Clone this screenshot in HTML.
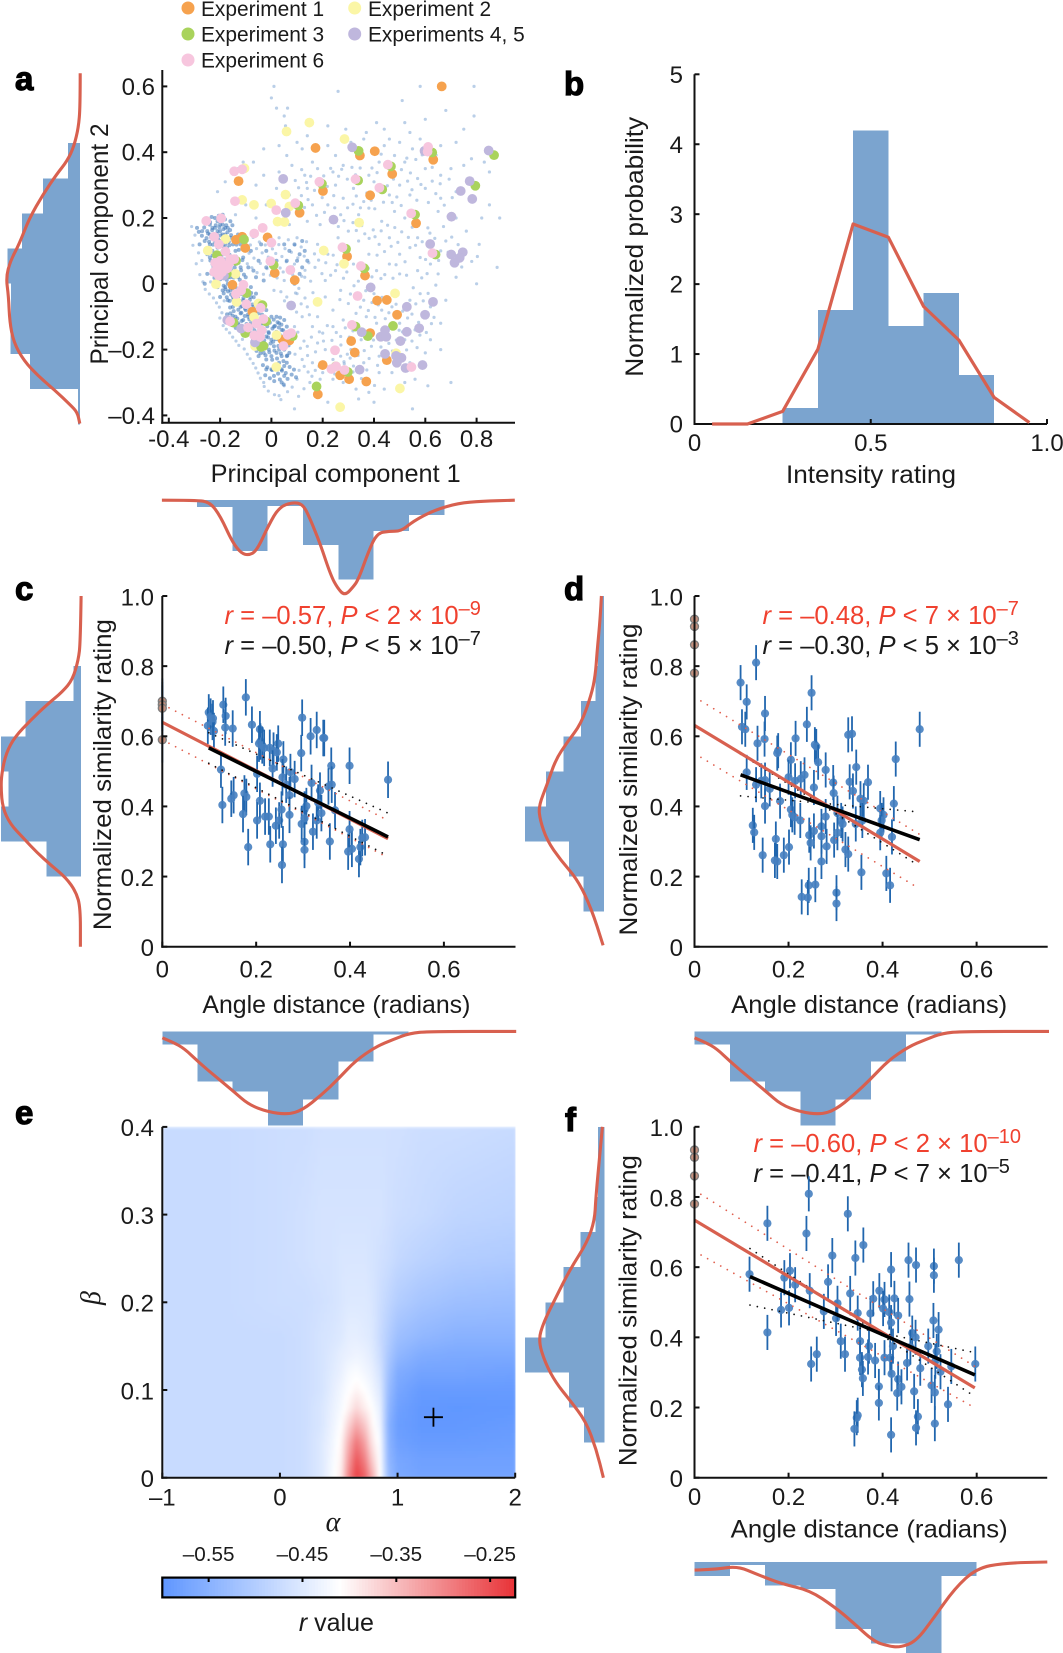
<!DOCTYPE html>
<html lang="en">
<head>
<meta charset="utf-8">
<title>Olfactory perceptual similarity figure</title>
<style>
html,body{margin:0;padding:0;background:#fff;}
svg{display:block;font-family:"Liberation Sans",Arial,sans-serif;fill:#1a1a1a;}
.tick{font-size:24px;}
.label{font-size:25px;}
.letter{font-size:33px;font-weight:bold;fill:#000;stroke:#000;stroke-width:1.2px;}
.legend{font-size:20.9px;}
.note{font-size:25.6px;}
.sup{font-size:20px;}
</style>
</head>
<body>
<svg id="figure" width="1063" height="1653" viewBox="0 0 1063 1653" xmlns="http://www.w3.org/2000/svg">
  <defs>
    <filter id="heat-blur" filterUnits="userSpaceOnUse" x="162.3" y="1126.6" width="352.9" height="350.8">
      <feGaussianBlur stdDeviation="1.6" edgeMode="duplicate"/>
    </filter>
    <filter id="soft-dots" x="-5%" y="-5%" width="110%" height="110%">
      <feGaussianBlur stdDeviation="0.35"/>
    </filter>
  </defs>
  <rect x="0" y="0" width="1063" height="1653" fill="#fff"/>

  <g>
    <text class="letter" x="15" y="90">a</text>
    <text class="letter" x="564" y="95">b</text>
    <text class="letter" x="15" y="600">c</text>
    <text class="letter" x="564" y="600">d</text>
    <text class="letter" x="15" y="1124">e</text>
    <text class="letter" x="565" y="1131">f</text>
  </g>

  <g>
    <circle cx="188" cy="8" r="6.5" fill="#f6a24e"/>
    <text class="legend" x="201" y="16">Experiment 1</text>
    <circle cx="354.7" cy="8" r="6.5" fill="#fbf6a6"/>
    <text class="legend" x="368" y="16">Experiment 2</text>
    <circle cx="188" cy="34" r="6.5" fill="#a9d35c"/>
    <text class="legend" x="201" y="41.5">Experiment 3</text>
    <circle cx="354.7" cy="34" r="6.5" fill="#bfb7dd"/>
    <text class="legend" x="368" y="41.5">Experiments 4, 5</text>
    <circle cx="188" cy="60" r="6.5" fill="#f7c6de"/>
    <text class="legend" x="201" y="67.5">Experiment 6</text>
  </g>

  <text class="label" x="335.7" y="482" text-anchor="middle" textLength="250" lengthAdjust="spacingAndGlyphs">Principal component 1</text>
  <text class="label" transform="translate(108,244) rotate(-90)" text-anchor="middle" textLength="241" lengthAdjust="spacingAndGlyphs">Principal component 2</text>
  <text class="label" x="871" y="483" text-anchor="middle" textLength="170" lengthAdjust="spacingAndGlyphs">Intensity rating</text>
  <text class="label" transform="translate(643,246.8) rotate(-90)" text-anchor="middle" textLength="260" lengthAdjust="spacingAndGlyphs">Normalized probability</text>
  <text class="label" x="336.4" y="1013" text-anchor="middle" textLength="268" lengthAdjust="spacingAndGlyphs">Angle distance (radians)</text>
  <text class="label" transform="translate(111,774.6) rotate(-90)" text-anchor="middle" textLength="311" lengthAdjust="spacingAndGlyphs">Normalized similarity rating</text>
  <text class="label" x="869.2" y="1013" text-anchor="middle" textLength="276" lengthAdjust="spacingAndGlyphs">Angle distance (radians)</text>
  <text class="label" transform="translate(637,779.5) rotate(-90)" text-anchor="middle" textLength="312" lengthAdjust="spacingAndGlyphs">Normalized similarity rating</text>
  <text x="333" y="1531" text-anchor="middle" style="font-family:'Liberation Serif',serif;font-style:italic;font-size:28px;">α</text>
  <text transform="translate(100,1298) rotate(-90)" text-anchor="middle" style="font-family:'Liberation Serif',serif;font-style:italic;font-size:28px;">β</text>
  <text class="label" x="336.4" y="1631" text-anchor="middle"><tspan font-style="italic">r</tspan> value</text>
  <text class="label" x="869.2" y="1537.5" text-anchor="middle" textLength="277" lengthAdjust="spacingAndGlyphs">Angle distance (radians)</text>
  <text class="label" transform="translate(636.3,1310.6) rotate(-90)" text-anchor="middle" textLength="311" lengthAdjust="spacingAndGlyphs">Normalized similarity rating</text>

  <g>
    <text class="note" x="224.5" y="624" style="fill:#f0412f"><tspan font-style="italic">r</tspan> = –0.57, <tspan font-style="italic">P</tspan> &lt; 2 × 10<tspan class="sup" dy="-9">–9</tspan></text>
    <text class="note" x="224.5" y="654"><tspan font-style="italic">r</tspan> = –0.50, <tspan font-style="italic">P</tspan> &lt; 5 × 10<tspan class="sup" dy="-9">–7</tspan></text>
    <text class="note" x="762.5" y="624" style="fill:#f0412f"><tspan font-style="italic">r</tspan> = –0.48, <tspan font-style="italic">P</tspan> &lt; 7 × 10<tspan class="sup" dy="-9">–7</tspan></text>
    <text class="note" x="762.5" y="654"><tspan font-style="italic">r</tspan> = –0.30, <tspan font-style="italic">P</tspan> &lt; 5 × 10<tspan class="sup" dy="-9">–3</tspan></text>
    <text class="note" x="753.5" y="1152" style="fill:#f0412f"><tspan font-style="italic">r</tspan> = –0.60, <tspan font-style="italic">P</tspan> &lt; 2 × 10<tspan class="sup" dy="-9">–10</tspan></text>
    <text class="note" x="753.5" y="1182"><tspan font-style="italic">r</tspan> = –0.41, <tspan font-style="italic">P</tspan> &lt; 7 × 10<tspan class="sup" dy="-9">–5</tspan></text>
  </g>
</svg>

<script>
/* ---------- Panel a data (principal component scores) ---------- */
const aBackgroundSparse = [
[.01,.6],[0,.565],[.02,.534],[.063,.534],[.05,.51],[.055,.48],[.26,.585],[.51,.557],[.58,.6],[.79,.6],[.68,.527],[.79,.51],[.6,.5],[.75,.47],[.54,.46],[.44,.47],[.41,.49],[.52,.49],[.46,.44],[.37,.46],[.29,.47],[.22,.48],[.14,.45],[.1,.43],[.03,.42],[-.03,.41],[-.07,.37],[-.11,.37],[.06,.39],[.12,.41],[.16,.37],[.22,.42],[.25,.39],[.31,.43],[.36,.44],[.41,.41],[.44,.42],[.5,.43],[.55,.41],[.58,.44],[.66,.42],[.72,.43],[.78,.38],[.83,.37],[.85,.34],[.75,.36],[.7,.35],[.66,.33],[.6,.35],[.57,.32],[.52,.37],[.48,.39],[.42,.37],[.38,.33],[.34,.38],[.28,.36],[.24,.34],[.18,.35],[.13,.33],[.08,.36],[.03,.34],[-.03,.33],[-.06,.3],[-.13,.35],[-.18,.31],[-.21,.28],[.02,.29],[.07,.27],[.14,.29],[.16,.24],[.25,.3],[.28,.26],[.32,.29],[.36,.25],[.4,.31],[.46,.27],[.5,.3],[.54,.27],[.6,.29],[.66,.26],[.72,.28],[.65,.22],[.72,.2],[.85,.24],[.89,.2],[.82,.2],[.76,.16],[.68,.13],[.61,.17],[.57,.14],[.52,.2],[.48,.22],[.43,.19],[.38,.23],[.34,.21],[.3,.16],[.27,.21],[.22,.24],[.19,.18],[.14,.19],[.1,.14],[.07,.18],[.03,.14],[-.02,.24],[-.06,.2],[-.1,.24],[-.14,.21],[.18,.12],[.22,.09],[.26,.14],[.3,.11],[.34,.13],[.38,.09],[.42,.12],[.46,.14],[.5,.09],[.54,.11],[.58,.08],[.62,.06],[.66,.1],[.74,.08],[.81,.12],[.88,.05],[.8,.0],[.72,.02],[.65,.03],[.57,.04],[.5,.03],[.46,.06],[.41,.04],[.36,.02],[.32,.06],[.25,.04],[.21,.01],[.17,.05],[.13,.02],[.09,.06],[.05,.01],[.01,-.02],[.06,-.04],[.1,-.03],[.14,-.07],[.18,-.1],[.21,-.04],[.24,-.08],[.27,-.02],[.3,-.06],[.33,-.09],[.36,-.05],[.4,-.03],[.43,-.08],[.47,-.07],[.5,-.12],[.54,-.05],[.58,-.03],[.62,-.07],[.68,-.05],[.66,-.12],[.62,-.17],[.56,-.14],[.52,-.17],[.47,-.13],[.41,-.12],[.37,-.1],[.32,-.12],[.28,-.11],[.24,-.13],[.2,-.15],[.16,-.13],[.12,-.1],[.09,-.13],[.14,-.19],[.18,-.18],[.21,-.2],[.27,-.16],[.31,-.2],[.35,-.17],[.39,-.19],[.42,-.22],[.36,-.24],[.32,-.25],[.27,-.22],[.24,-.23],[.2,-.27],[.16,-.24],[.12,-.23],[.1,-.29],[.15,-.3],[.19,-.29],[.24,-.29],[.28,-.3],[.33,-.32],[.38,-.33],[.42,-.27],[.47,-.27],[.52,-.3],[.56,-.29],[.61,-.31],[.7,-.3],[.54,-.24],[.6,-.21],[.66,-.2],[.55,-.38],[.4,-.36],[.22,-.36],[.09,-.38],[.03,-.34],[.05,-.31],[-.03,-.3],[.34,-.35],[.44,-.32],
[-.298,.148],[-.306,.117],[-.311,.174],[-.284,.094],[-.293,.061],[-.271,.071],[-.279,.028],[-.267,.006],[-.258,-.017],[-.242,-.031],[-.237,.006],[-.226,-.043],[-.214,-.058],[-.203,-.071],[-.193,-.088],[-.184,-.052],[-.201,-.104],[-.188,-.127],[-.176,-.138],[-.163,-.149],[-.151,-.162],[-.138,-.174],[-.127,-.187],[-.113,-.169],[-.106,-.198],[-.094,-.214],[-.083,-.228],[-.071,-.242],[-.061,-.256],[-.052,-.271],[-.043,-.287],[-.028,-.312],[-.012,-.326],[.012,-.337],[.037,-.352],[.063,-.328],[.081,-.314],[.106,-.342],[.127,-.319],[.143,-.268],[.158,-.281],[.171,-.263],[.186,-.251],[.207,-.239],[.226,-.262],[.247,-.274],[.263,-.247],[.283,-.237],[.297,-.281],[.318,-.268],[.351,-.288],[.372,-.262],[.402,-.309],
[-.094,.132],[-.082,.118],[-.071,.141],[-.058,.107],[-.047,.127],[-.036,.094],[-.024,.118],[-.012,.081],[.004,.106],[.017,.092],[.029,.119],[.041,.083],[.053,.107],[.066,.134],[.078,.096],[.091,.118],[.103,.079],[.116,.112],[.128,.084],[.137,.128],[.146,.064],[.131,.041],[.118,.023],[.107,-.014],[.094,-.028],[.083,.028],[.071,.044],[.058,.067],[.046,.036],[.034,.048],[.022,.018],[.009,.041],[-.004,.026],[-.017,.046],[-.031,.029],[-.043,.062],[-.056,.034],[-.068,.078],[-.076,.049],[-.087,.093],[-.094,.061],[.037,-.024],[.051,-.052],[.067,-.071],[.083,-.058],[.098,-.086],[.116,-.061],[.131,-.043],[.148,-.094],[.162,-.027],[.177,-.062],[.153,.008],[.168,.091],[.184,.072],[.197,.031],[.212,.064],[.231,.026],[.241,.087],[.256,.058],[.267,-.048],[.281,.017],[.294,.036],[.308,-.031],[.322,-.006],[.339,.008],[.347,-.071],[.368,-.021],[.378,-.081],[.392,-.057],[.404,-.102],[.417,-.064],[.431,-.041],[.444,-.106],[.458,-.088],[.472,-.034],[.486,-.062],[.498,-.141],[.512,-.083],[.531,-.104],[.548,-.092],[.563,-.061],[.574,-.117],[.592,-.052],[.611,-.029],[.634,-.102],[.318,-.143],[.304,-.162],[.288,-.134],[.271,-.186],[.253,-.148],[.236,-.172],[.218,-.127],[.203,-.174],[.187,-.146],[.172,-.207],[.156,-.162],[.141,-.218],[.127,-.174],[.113,-.196],[.128,-.251],[.108,-.263],[.092,-.214],[.081,-.171],[.103,-.147],[.296,-.214],[.284,-.243],[.307,-.226],[.338,-.218],[.362,-.203],[.381,-.227],[.398,-.171],[.414,-.248],[.427,-.192],[.458,-.181],[.472,-.204],[.487,-.171],[.511,-.146],[.527,-.201],[.548,-.174],[.568,-.194],[.579,-.156],[.604,-.148],[.624,-.121],[.381,.138],[.397,.164],[.412,.087],[.428,.161],[.441,.098],[.453,.178],[.467,.114],[.481,.171],[.493,.126],[.508,.158],[.521,.067],[.534,.141],[.549,.172],[.562,.117],[.588,.128],[.601,.074],[.618,.154],[.637,.138],[.652,.071],[.671,.174],[.689,.096],[.703,.142],[.728,.119],[.742,.051],[.757,.094],[.781,.068],[.803,.083],[.378,.047],[.392,.021],[.427,.016],[.442,.028],[.474,.017],[.486,.058],[.527,.026],[.553,-.012],[.586,.018],[.607,.031],[.641,-.004],[.318,.242],[.331,.267],[.347,.231],[.372,.276],[.389,.254],[.403,.228],[.418,.283],[.437,.248],[.452,.298],[.471,.247],[.489,.264],[.506,.238],[.531,.312],[.548,.286],[.567,.254],[.583,.302],[.612,.247],[.627,.312],[.641,.274],[.658,.304],[.674,.239],[.693,.318],[.705,.262],[.204,.328],[.218,.296],[.231,.351],[.243,.268],[.262,.327],[.274,.348],[.296,.318],[.314,.354],[.328,.331],[.346,.352],[.392,.352],[.412,.338],[.428,.394],[.462,.351],[.476,.318],[.507,.347],[.528,.382],[.542,.337],[.563,.378],[.588,.392],[.603,.411],[.627,.354],[.642,.391],[.093,.314],[.106,.292],[.118,.347],[.137,.308],[.153,.327],[.168,.284],[.183,.311],[.096,.251],[.117,.268],[.129,.232],[.143,.256],[.176,.208],[.198,.262],[.207,.217],[.231,.193],[.247,.231],[.261,.174],[.283,.192],[.297,.231],[.318,.186],[.331,.162],[.352,.177],[.364,.152],[.404,.143]
];
const aBackgroundDense = [
[-.25,.16],[-.24,.18],[-.23,.15],[-.22,.17],[-.21,.19],[-.2,.16],[-.19,.18],[-.18,.15],[-.22,.14],[-.2,.13],[-.18,.12],[-.16,.14],[-.17,.17],[-.15,.12],[-.24,.12],[-.26,.13],[-.23,.1],[-.21,.11],[-.19,.1],[-.17,.09],[-.14,.1],[-.12,.12],[-.13,.15],[-.19,.21],[-.22,.2],[-.16,.19],[-.21,.16],[-.19,.15],[-.2,.18],[-.23,.17],[-.18,.17],[-.17,.14],[-.24,.15],[-.27,.16],[-.29,.17],[-.28,.12],[-.25,.09],[-.24,.08],[-.23,.06],[-.22,.04],[-.21,.08],[-.2,.02],[-.19,.06],[-.18,.03],[-.17,.0],[-.16,.05],[-.15,.03],[-.14,.06],[-.13,.02],[-.12,.05],[-.11,.08],[-.21,-.01],[-.19,-.02],[-.18,-.01],[-.16,-.02],[-.15,-.04],[-.25,.03],[-.26,.0],[-.2,-.04],[-.17,-.05],[-.14,-.01],[-.13,-.04],[-.12,-.02],[-.1,.02],[-.09,.05],[-.16,.02],[-.17,.03],[-.15,-.01],[-.16,-.01],[-.14,-.03],[-.15,-.07],[-.13,-.06],[-.12,-.07],[-.11,-.05],[-.1,-.03],[-.09,-.06],[-.08,-.04],[-.07,-.07],[-.06,-.03],[-.05,-.06],[-.16,-.09],[-.14,-.1],[-.13,-.12],[-.12,-.09],[-.11,-.11],[-.1,-.08],[-.09,-.1],[-.08,-.12],[-.07,-.09],[-.06,-.11],[-.05,-.09],[-.04,-.07],[-.03,-.1],[-.02,-.08],[-.09,-.14],[-.08,-.15],[-.07,-.13],[-.06,-.15],[-.05,-.13],[-.04,-.12],[-.03,-.14],[-.02,-.12],[-.01,-.11],[0,-.1],[.01,-.13],[.02,-.1],[.03,-.12],[.04,-.14],[.05,-.11],[.06,-.13],[-.07,-.18],[-.05,-.19],[-.04,-.17],[-.03,-.18],[-.02,-.16],[-.01,-.15],[0,-.17],[.01,-.16],[.02,-.15],[.03,-.17],[.04,-.16],[.05,-.18],[.06,-.16],[.07,-.18],[-.05,-.22],[-.03,-.21],[-.02,-.23],[-.01,-.2],[0,-.22],[.01,-.19],[.02,-.21],[.03,-.2],[.04,-.22],[.05,-.2],[.06,-.22],[.07,-.21],[.02,-.25],[.03,-.24],[.04,-.26],[.05,-.25],[.06,-.24],[.0,-.26],[-.02,-.26],[.01,-.28],[.05,-.28],[.04,-.3],
[.05,.12],[.07,.1],[.09,.12],[.11,.09],[.12,.13],[.13,.1],[.06,.07],[.08,.05],[.1,.07],[.12,.05],[.14,.07],[.11,.03],[.09,.0],[-.04,.12],[-.02,.1],[-.05,.07],[-.02,.05],[-.06,.02],[-.08,.1],[-.07,.04],[.02,.07],[-.03,.01],[-.08,-.01],
[-.262,.171],[-.247,.153],[-.239,.187],[-.231,.163],[-.226,.142],[-.217,.178],[-.213,.151],[-.208,.136],[-.203,.172],[-.198,.147],[-.194,.191],[-.187,.166],[-.183,.139],[-.176,.178],[-.171,.157],[-.166,.128],[-.161,.163],[-.157,.148],[-.253,.139],[-.243,.128],[-.235,.141],[-.228,.119],[-.219,.127],[-.209,.123],[-.201,.117],[-.192,.129],[-.186,.112],[-.179,.131],[-.173,.108],[-.164,.117],[-.271,.146],[-.283,.158],[-.257,.191],[-.233,.203],[-.205,.207],[-.181,.196],[-.152,.178],[-.143,.137],[-.136,.119],[-.127,.103],
[-.243,.094],[-.238,.071],[-.229,.086],[-.226,.052],[-.217,.067],[-.214,.091],[-.207,.049],[-.203,.078],[-.196,.031],[-.193,.088],[-.187,.056],[-.182,.074],[-.177,.038],[-.172,.064],[-.168,.021],[-.163,.088],[-.158,.043],[-.153,.071],[-.147,.019],[-.143,.049],[-.139,.083],[-.133,.036],[-.128,.064],[-.123,.012],[-.118,.041],[-.113,.072],[-.107,.028],[-.234,.031],[-.222,.018],[-.211,.009],[-.199,.014],[-.186,-.006],[-.174,.012],[-.161,-.009],
[-.186,-.029],[-.179,-.017],[-.174,-.041],[-.169,-.023],[-.163,-.052],[-.157,-.033],[-.152,-.014],[-.148,-.048],[-.143,-.027],[-.138,-.061],[-.134,-.039],[-.129,-.018],[-.124,-.052],[-.119,-.031],[-.114,-.068],[-.109,-.043],[-.104,-.019],[-.099,-.056],[-.094,-.037],[-.089,-.071],[-.084,-.049],[-.079,-.028],[-.074,-.063],[-.069,-.041],[-.161,-.072],[-.147,-.083],[-.129,-.079],[-.117,-.088],[-.103,-.076],[-.091,-.093],
[-.173,-.093],[-.165,-.108],[-.158,-.124],[-.151,-.097],[-.146,-.117],[-.139,-.134],[-.133,-.106],[-.127,-.126],[-.121,-.143],[-.116,-.113],[-.109,-.131],[-.104,-.098],[-.097,-.122],[-.092,-.147],[-.086,-.108],[-.081,-.134],[-.076,-.101],[-.071,-.124],[-.066,-.142],[-.061,-.103],[-.056,-.127],[-.051,-.148],[-.046,-.112],[-.041,-.133],[-.036,-.094],[-.031,-.121],[-.026,-.141],[-.021,-.106],[-.016,-.129],[-.011,-.147],[-.006,-.118],[.004,-.136],[.009,-.109],[.014,-.128],[.019,-.146],[.024,-.117],[.029,-.133],[.034,-.103],[.039,-.124],[.046,-.141],
[-.072,-.167],[-.068,-.191],[-.063,-.173],[-.058,-.204],[-.053,-.161],[-.048,-.183],[-.043,-.211],[-.038,-.158],[-.033,-.194],[-.028,-.172],[-.023,-.217],[-.018,-.187],[-.013,-.163],[-.008,-.208],[-.003,-.181],[.003,-.231],[.007,-.176],[.012,-.203],[.017,-.168],[.022,-.227],[.027,-.189],[.032,-.154],[.037,-.212],[.042,-.178],[.047,-.235],[.052,-.197],[.057,-.163],[.062,-.218],[.067,-.187],
[-.033,-.247],[-.024,-.278],[-.016,-.254],[-.006,-.287],[.003,-.262],[.011,-.296],[.018,-.257],[.026,-.273],[.033,-.291],[.041,-.264],[.048,-.306],[.056,-.271],[.063,-.289],[.071,-.253],[.079,-.276],[.088,-.261],[.096,-.284]
];
const exp1Scores = [[.664,.6],[.172,.413],[.345,.39],[.403,.403],[.631,.377],[.471,.334],[-.128,.312],[.201,.282],[.385,.269],[.11,.216],[.564,.184],[-.138,.134],[-.114,.143],[-.015,.141],[-.102,.109],[.295,.083],[.013,.033],[.091,.011],[.365,.025],[-.152,-.003],[.412,-.051],[.45,-.049],[.49,-.094],[-.074,-.085],[.385,-.15],[.311,-.174],[.043,-.17],[.07,-.172],[.325,-.209],[.45,-.232],[.2,-.247],[.268,-.278],[.303,-.29],[.37,-.297],[.181,-.336]];
const exp2Scores = [[.148,.49],[.059,.463],[.285,.44],[-.105,.351],[.055,.271],[-.114,.255],[-.068,.24],[-.001,.244],[.07,.235],[.024,.189],[.051,.188],[.342,.186],[-.179,.136],[-.248,.101],[.204,.101],[.283,.061],[-.14,.03],[-.216,-.001],[.482,-.029],[.18,-.055],[-.136,-.055],[-.051,-.06],[-.068,-.101],[.02,-.156],[-.064,-.189],[.019,-.253],[.501,-.318],[.268,-.375],[.486,-.211]];
const exp3Scores = [[.34,.404],[.627,.399],[.868,.391],[.466,.357],[.338,.314],[.197,.304],[.795,.298],[.432,.287],[.105,.238],[.56,.21],[-.107,.135],[.291,.106],[.64,.089],[.009,.057],[.362,.047],[-.212,.087],[-.138,.07],[-.174,.03],[-.097,-.028],[-.035,-.065],[-.021,-.114],[-.148,-.118],[-.102,-.15],[.083,-.159],[.328,-.13],[.474,-.128],[.376,-.159],[-.031,-.189],[.298,-.268],[.176,-.312],[-.04,-.192],[.251,-.251]];
const exp45Scores = [[.315,.415],[.847,.405],[.597,.404],[.046,.319],[.773,.312],[.738,.282],[.783,.258],[.056,.216],[.242,.195],[.702,.204],[.619,.121],[.701,.089],[.746,.096],[.734,.079],[.714,.064],[.387,-.011],[.63,-.055],[.077,-.066],[.528,-.07],[.599,-.094],[.576,-.135],[.528,-.146],[.352,-.147],[.443,-.141],[.426,-.161],[.448,-.161],[.503,-.174],[.443,-.213],[.486,-.219],[.507,-.225],[.489,-.24],[.589,-.247],[.523,-.256],[.344,-.261],[-.064,-.178],[-.172,-.11],[-.118,-.136],[-.185,.025]];
const exp6Scores = [[-.145,.342],[-.114,.348],[.454,.362],[.611,.416],[.609,.402],[.328,.318],[.187,.31],[.421,.292],[-.142,.251],[.093,.245],[.019,.224],[.545,.214],[-.196,.199],[-.254,.191],[-.034,.17],[-.067,.153],[-.223,.143],[-.205,.12],[0,.125],[.277,.111],[.628,.093],[-.004,.069],[.074,.042],[.349,.054],[-.219,.064],[-.199,.07],[-.179,.098],[-.161,.075],[-.212,.047],[-.185,.05],[-.205,.025],[-.165,.062],[-.145,.075],[-.223,.036],[-.192,.036],[-.172,.047],[-.109,-.003],[-.118,-.02],[-.138,-.031],[-.098,-.062],[-.042,-.073],[-.031,-.107],[-.058,-.121],[-.091,-.133],[-.038,-.142],[-.067,-.157],[-.044,-.161],[.077,-.15],[.063,-.155],[.047,-.189],[-.161,-.114],[.336,-.037],[.314,-.125],[.248,-.202],[.234,-.259],[.252,-.251],[.285,-.262],[.546,-.253]];
const aXTicks = [-.4,-.2,0,.2,.4,.6,.8];
const aXTickLabels = ['-0.4','-0.2','0','0.2','0.4','0.6','0.8'];
const aYTicks = [-.4,-.2,0,.2,.4,.6];
const aYTickLabels = ['–0.4','–0.2','0','0.2','0.4','0.6'];
const aLeftBins = [.17,.51,.80,1.0,.95,.96,.69,.03];
const aLeftCurve = [[.64,0],[.537,0],[.475,.024],[.418,.085],[.373,.18],[.334,.32],[.272,.51],[.199,.7],[.12,.84],[.07,.96],[.019,1.02],[-.037,.986],[-.116,.97],[-.178,.915],[-.234,.773],[-.279,.583],[-.324,.346],[-.369,.133],[-.391,.038],[-.425,.005]];
const aBottomBins = [.07,.51,.06,.45,.794,.31,.148];
const aBottomCurve = [[-.427,0],[-.293,0],[-.239,.02],[-.199,.16],[-.152,.42],[-.118,.53],[-.089,.55],[-.058,.51],[-.011,.25],[.03,.07],[.083,.02],[.123,.04],[.15,.18],[.191,.44],[.231,.75],[.258,.88],[.286,.955],[.318,.87],[.338,.8],[.379,.51],[.412,.33],[.459,.31],[.506,.31],[.553,.21],[.634,.1],[.728,.03],[.821,.01],[.949,0]];

/* ---------- Panel b data ---------- */
const bBinHeights = [.23,1.63,4.2,1.4,1.87,.7];
const bCurveCenters = [.05,.15,.25,.35,.45,.55,.65,.75,.85,.95];
const bCurveValues = [0,0,.18,1.07,2.86,2.67,1.68,1.2,.38,.02];
const bXTicks = [0,.5,1];
const bXTickLabels = ['0','0.5','1.0'];
const bYTicks = [0,1,2,3,4,5];
const bYTickLabels = ['0','1','2','3','4','5'];

/* ---------- Panels c, d, f data ---------- */
const cPoints = [[.099,.668],[.097,.63],[.103,.656],[.107,.641],[.11,.615],[.108,.651],[.13,.69],[.135,.658],[.134,.625],[.125,.505],[.15,.622],[.178,.711],[.191,.633],[.208,.62],[.209,.585],[.206,.579],[.213,.574],[.217,.567],[.229,.567],[.237,.559],[.247,.579],[.244,.554],[.258,.534],[.235,.508],[.202,.493],[.152,.432],[.147,.422],[.175,.437],[.179,.427],[.208,.416],[.172,.378],[.128,.404],[.202,.36],[.219,.371],[.227,.371],[.183,.284],[.23,.292],[.242,.345],[.249,.36],[.254,.391],[.257,.292],[.255,.233],[.256,.483],[.264,.462],[.273,.498],[.282,.478],[.271,.432],[.271,.376],[.296,.552],[.298,.653],[.316,.6],[.329,.618],[.345,.595],[.343,.595],[.36,.516],[.399,.516],[.481,.476],[.318,.467],[.336,.445],[.354,.457],[.361,.462],[.303,.391],[.307,.401],[.297,.35],[.303,.366],[.303,.299],[.303,.276],[.321,.328],[.329,.36],[.332,.411],[.339,.381],[.357,.3],[.396,.271],[.404,.279],[.399,.335],[.419,.25],[.422,.284],[.426,.31],[.432,.312],[.368,.389]];
const cZeroPoints = [[0,.70],[0,.69],[0,.68],[0,.59]];
const cRedFit = [[0,.64],[.481,.308]];
const cRedBandUpper = [[0,.691],[.481,.36]];
const cRedBandLower = [[0,.59],[.481,.254]];
const cBlackFit = [[.099,.567],[.481,.313]];
const cBlackBandUpper = [[.099,.61],[.481,.381]];
const cBlackBandLower = [[.099,.523],[.481,.259]];
const cErrorHalf = .052;

const dPoints = [[.098,.753],[.131,.81],[.249,.724],[.111,.698],[.15,.665],[.101,.627],[.108,.62],[.149,.592],[.134,.58],[.239,.634],[.215,.594],[.205,.533],[.178,.559],[.176,.552],[.256,.576],[.259,.571],[.263,.526],[.279,.504],[.327,.604],[.335,.607],[.344,.512],[.428,.535],[.479,.62],[.111,.497],[.131,.462],[.142,.473],[.15,.475],[.16,.45],[.15,.401],[.182,.415],[.2,.483],[.214,.473],[.226,.479],[.234,.49],[.254,.454],[.295,.468],[.296,.438],[.33,.47],[.337,.444],[.369,.469],[.353,.422],[.36,.416],[.395,.394],[.402,.376],[.398,.36],[.424,.408],[.124,.346],[.127,.326],[.145,.261],[.173,.307],[.171,.246],[.176,.243],[.19,.261],[.201,.284],[.205,.391],[.208,.376],[.213,.369],[.225,.36],[.244,.318],[.254,.33],[.247,.296],[.27,.343],[.27,.315],[.281,.286],[.27,.243],[.279,.371],[.304,.381],[.312,.36],[.315,.35],[.297,.304],[.304,.325],[.321,.277],[.327,.264],[.343,.35],[.357,.36],[.395,.325],[.42,.313],[.355,.212],[.408,.209],[.416,.175],[.257,.177],[.243,.175],[.228,.142],[.241,.14],[.302,.154],[.302,.123]];
const dZeroPoints = [[0,.934],[0,.913],[0,.861],[0,.78]];
const dRedFit = [[0,.631],[.479,.243]];
const dRedBandUpper = [[0,.712],[.479,.32]];
const dRedBandLower = [[0,.551],[.479,.165]];
const dBlackFit = [[.098,.49],[.479,.305]];
const dBlackBandUpper = [[.098,.549],[.475,.233]];
const dBlackBandLower = [[.098,.43],[.479,.384]];
const dErrorHalf = .05;

const fPoints = [[.117,.58],[.155,.725],[.155,.414],[.184,.478],[.191,.57],[.203,.59],[.201,.484],[.214,.55],[.243,.809],[.238,.696],[.326,.752],[.359,.663],[.342,.626],[.293,.633],[.284,.558],[.245,.533],[.275,.474],[.301,.454],[.304,.497],[.331,.525],[.347,.469],[.374,.468],[.38,.51],[.393,.533],[.418,.593],[.404,.508],[.401,.482],[.414,.472],[.425,.511],[.433,.462],[.455,.62],[.471,.606],[.457,.509],[.509,.603],[.509,.577],[.562,.62],[.508,.448],[.519,.422],[.418,.442],[.463,.412],[.47,.4],[.311,.389],[.32,.352],[.26,.352],[.248,.324],[.352,.389],[.352,.342],[.371,.375],[.369,.344],[.384,.334],[.404,.342],[.416,.342],[.422,.375],[.356,.308],[.358,.283],[.419,.296],[.392,.26],[.392,.213],[.433,.281],[.431,.241],[.44,.259],[.452,.327],[.459,.372],[.48,.312],[.467,.246],[.497,.375],[.515,.36],[.504,.263],[.511,.243],[.523,.302],[.512,.332],[.546,.317],[.597,.324],[.539,.209],[.475,.174],[.471,.142],[.511,.154],[.418,.122],[.347,.178],[.345,.171],[.34,.139]];
const fZeroPoints = [[0,.934],[0,.913],[0,.86],[0,.78]];
const fRedFit = [[0,.734],[.596,.256]];
const fRedBandUpper = [[0,.819],[.596,.317]];
const fRedBandLower = [[0,.645],[.587,.206]];
const fBlackFit = [[.118,.573],[.596,.293]];
const fBlackBandUpper = [[.118,.653],[.594,.233]];
const fBlackBandLower = [[.118,.492],[.594,.357]];
const fErrorHalf = .05;

const ratingTicks = [0,.2,.4,.6,.8,1];
const ratingTickLabels = ['0','0.2','0.4','0.6','0.8','1.0'];
const angleTicks = [0,.2,.4,.6];
const angleTickLabels = ['0','0.2','0.4','0.6'];

const cLeftBins = [.074,.554,.801,.727,.801,.348];
const cLeftCurve = [[1,0],[.869,.007],[.818,.027],[.762,.084],[.727,.186],[.691,.338],[.645,.507],[.599,.66],[.553,.75],[.492,.795],[.452,.801],[.396,.784],[.35,.71],[.309,.575],[.268,.44],[.233,.304],[.197,.152],[.156,.05],[.111,.007],[0,.007]];
const dLeftBins = [.037,.06,.085,.23,.408,.581,.79,.35,.204];
const dLeftCurve = [[1,.027],[.941,.037],[.839,.071],[.773,.088],[.717,.129],[.635,.231],[.584,.367],[.533,.486],[.462,.571],[.4,.656],[.36,.639],[.303,.571],[.247,.435],[.191,.265],[.11,.129],[.004,.01]];
const fLeftBins = [.063,.063,.088,.24,.409,.589,.794,.353,.205];
const fLeftCurve = [[1,.021],[.925,.046],[.794,.088],[.734,.099],[.673,.169],[.593,.346],[.513,.487],[.442,.61],[.392,.663],[.327,.593],[.271,.487],[.221,.346],[.161,.187],[.08,.081],[0,.011]];
const angleBottomBins = [.13,.50,.60,.94,.68,.30,.03];
const angleBottomCurve = [[0,.064],[.022,.107],[.047,.171],[.079,.314],[.115,.457],[.152,.6],[.184,.732],[.224,.804],[.267,.832],[.299,.786],[.339,.636],[.375,.475],[.411,.296],[.455,.154],[.491,.082],[.527,.018],[.57,0],[.754,0]];
const fBottomBins = [.138,.03,.236,.27,.67,.815,1.0,.14];
const fBottomCurve = [[0,.081],[.043,.074],[.092,.042],[.133,.123],[.185,.219],[.245,.282],[.298,.451],[.336,.6],[.381,.794],[.411,.84],[.437,.854],[.471,.794],[.508,.564],[.553,.265],[.6,.063],[.657,.011],[.75,0]];

/* ---------- Panel e data ---------- */
const alphaGrid = [-1,-.5,0,.2,.35,.45,.52,.58,.65,.72,.78,.85,.92,1,1.2,1.5,2];
const betaGrid = [0,.02,.04,.06,.08,.1,.12,.14,.16,.2,.25,.3,.4];
const rGrid = [
[-.475,-.475,-.475,-.47,-.45,-.415,-.39,-.3,-.235,-.265,-.33,-.41,-.53,-.565,-.575,-.575,-.575],
[-.475,-.475,-.475,-.47,-.45,-.42,-.395,-.32,-.255,-.295,-.36,-.415,-.54,-.57,-.58,-.58,-.58],
[-.475,-.475,-.475,-.47,-.45,-.425,-.4,-.34,-.285,-.325,-.385,-.42,-.545,-.58,-.59,-.59,-.585],
[-.475,-.475,-.475,-.47,-.455,-.43,-.41,-.37,-.33,-.36,-.4,-.43,-.55,-.585,-.595,-.595,-.59],
[-.475,-.475,-.475,-.47,-.455,-.435,-.42,-.4,-.375,-.395,-.41,-.44,-.54,-.58,-.595,-.597,-.595],
[-.475,-.475,-.475,-.47,-.46,-.44,-.425,-.412,-.4,-.41,-.425,-.45,-.53,-.57,-.59,-.59,-.59],
[-.475,-.475,-.475,-.47,-.46,-.445,-.435,-.42,-.415,-.425,-.435,-.46,-.52,-.56,-.575,-.575,-.58],
[-.475,-.475,-.475,-.47,-.46,-.45,-.44,-.435,-.43,-.435,-.445,-.47,-.51,-.54,-.56,-.565,-.565],
[-.475,-.475,-.475,-.47,-.46,-.455,-.45,-.44,-.44,-.445,-.45,-.475,-.5,-.525,-.54,-.55,-.55],
[-.475,-.475,-.47,-.47,-.465,-.46,-.455,-.45,-.45,-.45,-.455,-.47,-.485,-.5,-.515,-.525,-.53],
[-.475,-.475,-.47,-.465,-.46,-.46,-.455,-.455,-.455,-.455,-.46,-.465,-.47,-.48,-.49,-.5,-.505],
[-.475,-.475,-.47,-.465,-.46,-.46,-.46,-.46,-.46,-.46,-.46,-.46,-.465,-.47,-.475,-.485,-.49],
[-.475,-.475,-.47,-.47,-.465,-.465,-.465,-.465,-.465,-.465,-.465,-.465,-.465,-.465,-.47,-.47,-.475]
];
const optimumPoint = [1.305,.069];
const eXTicks = [-1,0,1,2];
const eXTickLabels = ['–1','0','1','2'];
const eYTicks = [0,.1,.2,.3,.4];
const eYTickLabels = ['0','0.1','0.2','0.3','0.4'];
const colorbarTicks = [-.55,-.45,-.35,-.25];
const colorbarTickLabels = ['–0.55','–0.45','–0.35','–0.25'];
const colorbarRange = [-.5994,-.2233];

/* ---------- Drawing helpers ---------- */
const NS = 'http://www.w3.org/2000/svg';
const svg = document.getElementById('figure');
const AXIS = '#111';
const BAR = '#7ba4cf';
const CURVE = '#d8604f';
function mk(parent, tag, attrs) {
  const el = document.createElementNS(NS, tag);
  for (const k in attrs) el.setAttribute(k, attrs[k]);
  parent.appendChild(el);
  return el;
}
function scale(d0, d1, r0, r1) { return v => r0 + (v - d0) * (r1 - r0) / (d1 - d0); }
function smoothPath(pts) {
  let d = 'M' + pts[0][0].toFixed(1) + ' ' + pts[0][1].toFixed(1);
  for (let i = 1; i < pts.length - 1; i++) {
    const mx = (pts[i][0] + pts[i + 1][0]) / 2, my = (pts[i][1] + pts[i + 1][1]) / 2;
    d += 'Q' + pts[i][0].toFixed(1) + ' ' + pts[i][1].toFixed(1) + ' ' + mx.toFixed(1) + ' ' + my.toFixed(1);
  }
  const last = pts[pts.length - 1];
  return d + 'L' + last[0].toFixed(1) + ' ' + last[1].toFixed(1);
}
function drawAxes(g, o) {
  const xLine = mk(g, 'line', {x1: o.left - 1, x2: o.right, y1: o.bottom, y2: o.bottom, stroke: AXIS, 'stroke-width': 2});
  
  
  const yLine = mk(g, 'line', {x1: o.left, x2: o.left, y1: o.top, y2: o.bottom + 1, stroke: AXIS, 'stroke-width': 2});
  
  
  o.xTicks.forEach((t, i) => {
    const px = o.x(t);
    const tk = mk(g, 'line', {x1: px, x2: px, y1: o.bottom, y2: o.bottom - 5, stroke: AXIS, 'stroke-width': 2});
    
    
    const lb = mk(g, 'text', {x: px, y: o.xLabelY, 'text-anchor': 'middle', class: 'tick'});
    lb.textContent = o.xLabels[i];
    
    
  });
  o.yTicks.forEach((t, i) => {
    const py = o.y(t);
    const tk = mk(g, 'line', {x1: o.left, x2: o.left + 5, y1: py, y2: py, stroke: AXIS, 'stroke-width': 2});
    
    
    const lb = mk(g, 'text', {x: o.yLabelX, y: py + (o.yLabelDy || 9.3), 'text-anchor': 'end', class: 'tick'});
    lb.textContent = o.yLabels[i];
    
    
  });
}
/* histogram hanging left from a vertical baseline */
function drawLeftMarginal(bins, curve, o) {
  const g = mk(svg, 'g', {});
  
  
  bins.forEach((v, i) => {
    const y0 = o.y(o.start - i * o.step), y1 = o.y(o.start - (i + 1) * o.step);
    const r = mk(g, 'rect', {x: o.base - v * o.unit, y: y0, width: v * o.unit, height: y1 - y0, fill: BAR, 'shape-rendering': 'crispEdges'});
    
    
  });
  const p = mk(g, 'path', {d: smoothPath(curve.map(c => [o.base - c[1] * o.unit, o.y(c[0])])), fill: 'none', stroke: CURVE, 'stroke-width': 3.1, 'stroke-linejoin': 'round'});
  
  
}
/* histogram hanging down from a horizontal baseline */
function drawBottomMarginal(bins, curve, o) {
  const g = mk(svg, 'g', {});
  
  
  bins.forEach((v, i) => {
    const x0 = o.x(o.start + i * o.step), x1 = o.x(o.start + (i + 1) * o.step);
    const r = mk(g, 'rect', {x: x0, y: o.base, width: x1 - x0, height: v * o.unit, fill: BAR, 'shape-rendering': 'crispEdges'});
    
    
  });
  const p = mk(g, 'path', {d: smoothPath(curve.map(c => [o.x(c[0]), o.base + c[1] * o.unit])), fill: 'none', stroke: CURVE, 'stroke-width': 3.1, 'stroke-linejoin': 'round'});
  
  
}
function drawSimilarityPanel(id, d) {
  const g = mk(svg, 'g', {});
  
  
  const x = d.x, y = d.y;
  d.points.forEach(p => {
    const e = mk(g, 'line', {x1: x(p[0]), x2: x(p[0]), y1: y(p[1] - d.err), y2: y(p[1] + d.err), stroke: '#2166ae', 'stroke-width': 1.8});
    
    
    const c = mk(g, 'circle', {cx: x(p[0]), cy: y(p[1]), r: 4.1, fill: '#4680c0', opacity: .9});
    
    
  });
  d.zero.forEach(p => {
    const e = mk(g, 'line', {x1: x(p[0]), x2: x(p[0]), y1: y(p[1] - .065), y2: y(p[1] + .065), stroke: '#2166ae', 'stroke-width': 1.8});
    
    
  });
  const dotted = (seg, color, name) => {
    const l = mk(g, 'line', {x1: x(seg[0][0]), y1: y(seg[0][1]), x2: x(seg[1][0]), y2: y(seg[1][1]), stroke: color, 'stroke-width': 1.7, 'stroke-dasharray': '0.01 7.5', 'stroke-linecap': 'round'});
    
    
  };
  dotted(d.redUp, '#e0604f', 'red-confidence-upper');
  dotted(d.redLow, '#e0604f', 'red-confidence-lower');
  dotted(d.blackUp, '#111', 'black-confidence-upper');
  dotted(d.blackLow, '#111', 'black-confidence-lower');
  const red = mk(g, 'line', {x1: x(d.red[0][0]), y1: y(d.red[0][1]), x2: x(d.red[1][0]), y2: y(d.red[1][1]), stroke: CURVE, 'stroke-width': 3.2});
  
  
  const black = mk(g, 'line', {x1: x(d.black[0][0]), y1: y(d.black[0][1]), x2: x(d.black[1][0]), y2: y(d.black[1][1]), stroke: '#000', 'stroke-width': 3.6});
  
  
  d.zero.forEach(p => {
    const c = mk(g, 'circle', {cx: x(p[0]), cy: y(p[1]), r: 4, fill: '#c4917f', stroke: '#7d7d7d', 'stroke-width': 1.3});
    
    
  });
}

/* ---------- Panel a ---------- */
const ax = scale(0, .2, 271.4, 322.7), ay = scale(0, .2, 283.8, 218);
const aG = mk(svg, 'g', {});


const aDots = mk(aG, 'g', {filter: 'url(#soft-dots)'});


aBackgroundSparse.forEach(p => {
  const c = mk(aDots, 'circle', {cx: ax(p[0]), cy: ay(p[1]), r: 1.6, fill: '#8fb2da', opacity: .62});
  
  
});
aBackgroundDense.forEach(p => {
  const c = mk(aDots, 'circle', {cx: ax(p[0]), cy: ay(p[1]), r: 2, fill: '#3b74b8', opacity: .55});
  
  
});
[[exp1Scores, '#f6a24e', 'experiment-1-point'], [exp2Scores, '#fbf6a6', 'experiment-2-point'], [exp3Scores, '#a9d35c', 'experiment-3-point'], [exp45Scores, '#bfb7dd', 'experiments-4-5-point'], [exp6Scores, '#f7c6de', 'experiment-6-point']].forEach(s => {
  s[0].forEach(p => {
    const c = mk(aG, 'circle', {cx: ax(p[0]), cy: ay(p[1]), r: 4.9, fill: s[1]});
    
    
  });
});
const aAxes = mk(svg, 'g', {});


drawAxes(aAxes, {left: 162.3, right: 515, top: 70, bottom: 422.7, x: ax, y: ay, xTicks: aXTicks, xLabels: aXTickLabels, yTicks: aYTicks, yLabels: aYTickLabels, xLabelY: 447, yLabelX: 155, yLabelDy: 8.4});
drawLeftMarginal(aLeftBins, aLeftCurve, {base: 80.2, unit: 72.7, y: ay, start: .4275, step: .1068});
drawBottomMarginal(aBottomBins, aBottomCurve, {base: 500.2, unit: 100, x: ax, start: -.29, step: .1377});

/* ---------- Panel b ---------- */
const bx = scale(0, 1, 694.5, 1047), by = scale(0, 5, 424, 74.3);
const bG = mk(svg, 'g', {});


bBinHeights.forEach((v, i) => {
  const r = mk(bG, 'rect', {x: bx(.25 + i * .1), y: by(v), width: bx(.35 + i * .1) - bx(.25 + i * .1), height: by(0) - by(v), fill: BAR, 'shape-rendering': 'crispEdges'});
  
  
});
const bAxes = mk(svg, 'g', {});


drawAxes(bAxes, {left: 694.5, right: 1047, top: 74.3, bottom: 424, x: bx, y: by, xTicks: bXTicks, xLabels: bXTickLabels, yTicks: bYTicks, yLabels: bYTickLabels, xLabelY: 451, yLabelX: 683, yLabelDy: 8.6});
const bLine = mk(svg, 'polyline', {points: bCurveCenters.map((c, i) => bx(c).toFixed(1) + ',' + by(bCurveValues[i]).toFixed(1)).join(' '), fill: 'none', stroke: CURVE, 'stroke-width': 3.2, 'stroke-linejoin': 'round'});



/* ---------- Panel c ---------- */
const cx = scale(0, .6, 162.3, 443.9), cy = scale(0, 1, 946.7, 596);
drawSimilarityPanel('c', {x: cx, y: cy, points: cPoints, zero: cZeroPoints, err: cErrorHalf, red: cRedFit, redUp: cRedBandUpper, redLow: cRedBandLower, black: cBlackFit, blackUp: cBlackBandUpper, blackLow: cBlackBandLower});
const cAxes = mk(svg, 'g', {});


drawAxes(cAxes, {left: 162.3, right: 515.5, top: 596, bottom: 946.7, x: cx, y: cy, xTicks: angleTicks, xLabels: angleTickLabels, yTicks: ratingTicks, yLabels: ratingTickLabels, xLabelY: 977.5, yLabelX: 154});
drawLeftMarginal(cLeftBins, cLeftCurve, {base: 81.1, unit: 100, y: cy, start: .8, step: .1});
drawBottomMarginal(angleBottomBins, angleBottomCurve, {base: 1031.4, unit: 100, x: cx, start: 0, step: .075});

/* ---------- Panel d ---------- */
const dx = scale(0, .6, 694.5, 976.6), dy = scale(0, 1, 946.7, 596);
drawSimilarityPanel('d', {x: dx, y: dy, points: dPoints, zero: dZeroPoints, err: dErrorHalf, red: dRedFit, redUp: dRedBandUpper, redLow: dRedBandLower, black: dBlackFit, blackUp: dBlackBandUpper, blackLow: dBlackBandLower});
const dAxes = mk(svg, 'g', {});


drawAxes(dAxes, {left: 694.5, right: 1047.7, top: 596, bottom: 946.7, x: dx, y: dy, xTicks: angleTicks, xLabels: angleTickLabels, yTicks: ratingTicks, yLabels: ratingTickLabels, xLabelY: 977.5, yLabelX: 683});
drawLeftMarginal(dLeftBins, dLeftCurve, {base: 604.1, unit: 100, y: dy, start: 1, step: .1});
drawBottomMarginal(angleBottomBins, angleBottomCurve, {base: 1031.4, unit: 100, x: dx, start: 0, step: .075});

/* ---------- Panel e ---------- */
const ex = scale(-1, 2, 162.3, 515.2), ey = scale(0, .4, 1477.7, 1126.9);
function cmap(r) {
  const mid = -.41, lo = colorbarRange[0], hi = colorbarRange[1];
  let c;
  if (r <= mid) {
    const t = Math.max(0, (r - lo) / (mid - lo));
    c = [95 + 160 * t, 150 + 105 * t, 255];
  } else {
    const t = Math.min(1, (r - mid) / (hi - mid));
    c = [255 - 23 * t, 255 - 205 * t, 255 - 200 * t];
  }
  return 'rgb(' + c.map(Math.round).join(',') + ')';
}
function bracket(grid, v) {
  let i = 0;
  while (i < grid.length - 2 && v > grid[i + 1]) i++;
  return [i, Math.min(1, Math.max(0, (v - grid[i]) / (grid[i + 1] - grid[i])))];
}
function rAt(a, b) {
  const A = bracket(alphaGrid, a), B = bracket(betaGrid, b);
  const i = A[0], j = B[0], s = A[1], t = B[1];
  return (1 - t) * ((1 - s) * rGrid[j][i] + s * rGrid[j][i + 1]) + t * ((1 - s) * rGrid[j + 1][i] + s * rGrid[j + 1][i + 1]);
}
const eG = mk(svg, 'g', {'shape-rendering': 'crispEdges', filter: 'url(#heat-blur)'});


const cellStep = 3;
for (let py = ey(.4); py < ey(0); py += cellStep) {
  for (let px = ex(-1); px < ex(2); px += cellStep) {
    const a = -1 + (px + cellStep / 2 - ex(-1)) / (ex(2) - ex(-1)) * 3;
    const b = (ey(0) - py - cellStep / 2) / (ey(0) - ey(.4)) * .4;
    const cell = mk(eG, 'rect', {x: px.toFixed(1), y: py.toFixed(1), width: cellStep + .4, height: cellStep + .4, fill: cmap(rAt(a, b))});
    
    
  }
}
const eAxes = mk(svg, 'g', {});


drawAxes(eAxes, {left: 162.3, right: 515.2, top: 1126.9, bottom: 1477.7, x: ex, y: ey, xTicks: eXTicks, xLabels: eXTickLabels, yTicks: eYTicks, yLabels: eYTickLabels, xLabelY: 1505.5, yLabelX: 154});
const crossH = mk(svg, 'line', {x1: ex(optimumPoint[0]) - 9.5, x2: ex(optimumPoint[0]) + 9.5, y1: ey(optimumPoint[1]), y2: ey(optimumPoint[1]), stroke: '#000', 'stroke-width': 1.8});


const crossV = mk(svg, 'line', {x1: ex(optimumPoint[0]), x2: ex(optimumPoint[0]), y1: ey(optimumPoint[1]) - 9.5, y2: ey(optimumPoint[1]) + 9.5, stroke: '#000', 'stroke-width': 1.8});



/* colour bar */
const barX = scale(colorbarRange[0], colorbarRange[1], 162.3, 515.2);
const barG = mk(svg, 'g', {});


for (let i = 0; i < 120; i++) {
  const v = colorbarRange[0] + (colorbarRange[1] - colorbarRange[0]) * (i + .5) / 120;
  const s = mk(barG, 'rect', {x: barX(v) - 1.6, y: 1577.6, width: 3.4, height: 19.8, fill: cmap(v), 'shape-rendering': 'crispEdges'});
  
  
}
const barFrame = mk(barG, 'rect', {x: 162.3, y: 1577.6, width: 352.9, height: 19.8, fill: 'none', stroke: '#000', 'stroke-width': 2.2});


colorbarTicks.forEach((t, i) => {
  const tk = mk(barG, 'line', {x1: barX(t), x2: barX(t), y1: 1577.6, y2: 1582, stroke: '#000', 'stroke-width': 2});
  
  
  const lb = mk(barG, 'text', {x: barX(t), y: 1561, 'text-anchor': 'middle', style: 'font-size:20.7px'});
  lb.textContent = colorbarTickLabels[i];
  
  
});

/* ---------- Panel f ---------- */
const fx = scale(0, .6, 694.5, 976.7), fy = scale(0, 1, 1477.7, 1126.8);
drawSimilarityPanel('f', {x: fx, y: fy, points: fPoints, zero: fZeroPoints, err: fErrorHalf, red: fRedFit, redUp: fRedBandUpper, redLow: fRedBandLower, black: fBlackFit, blackUp: fBlackBandUpper, blackLow: fBlackBandLower});
const fAxes = mk(svg, 'g', {});


drawAxes(fAxes, {left: 694.5, right: 1047.2, top: 1126.8, bottom: 1477.7, x: fx, y: fy, xTicks: angleTicks, xLabels: angleTickLabels, yTicks: ratingTicks, yLabels: ratingTickLabels, xLabelY: 1505, yLabelX: 683});
drawLeftMarginal(fLeftBins, fLeftCurve, {base: 604.5, unit: 100, y: fy, start: 1, step: .1});
drawBottomMarginal(fBottomBins, fBottomCurve, {base: 1562, unit: 100, x: fx, start: 0, step: .075});
</script>
</body>
</html>
